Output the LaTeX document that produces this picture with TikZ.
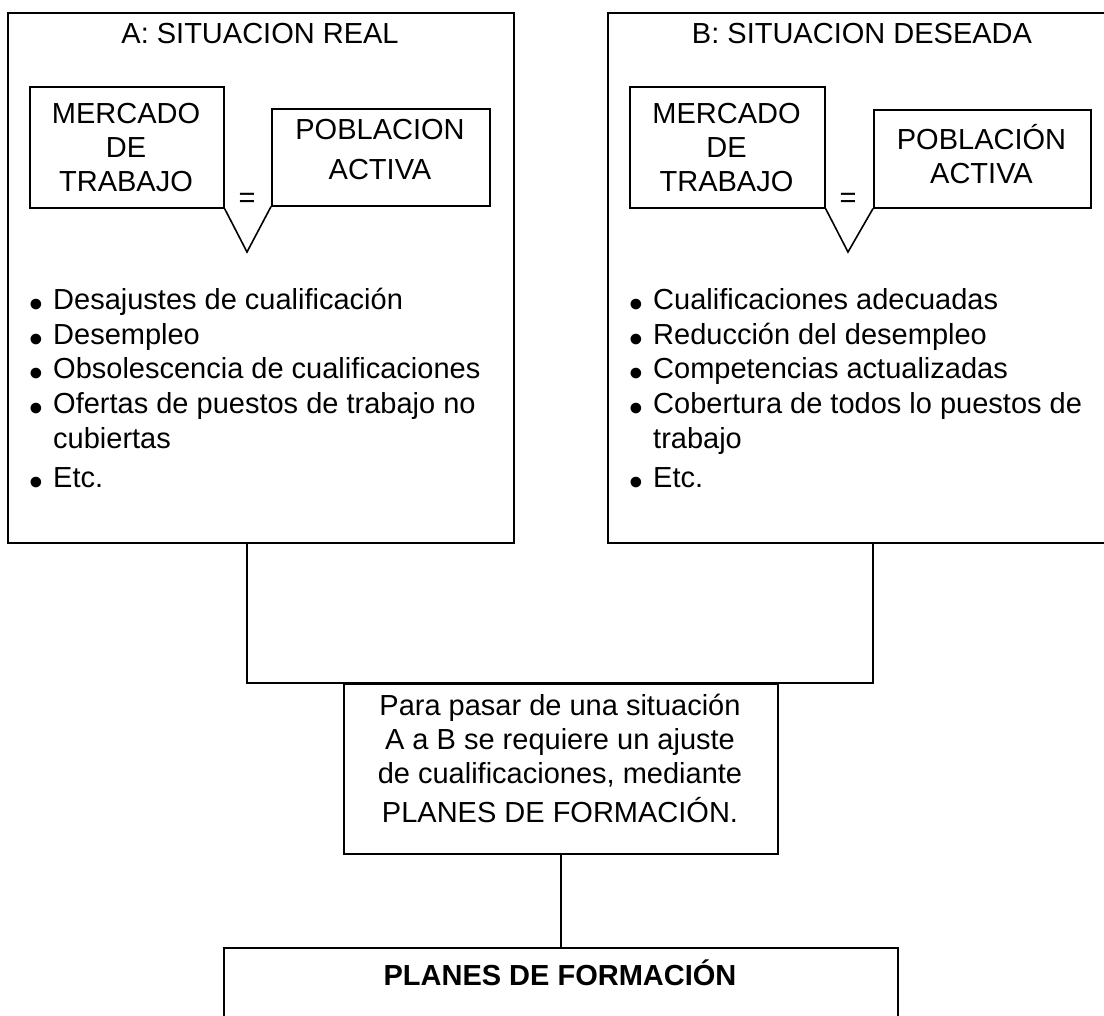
\documentclass[tikz,border=0pt]{standalone}
\usepackage{fontspec}
\setmainfont{Liberation Sans}
\newcommand\bul{\makebox[24pt][l]{\raisebox{-8pt}{\scalebox{1.35}{•}}}}
\begin{document}
\begin{tikzpicture}[x=1pt,y=-1pt,
  box/.style={draw, line width=1.6pt, inner sep=0pt, anchor=north west},
  txt/.style={inner sep=0pt, font=\fontsize{29}{34}\selectfont, align=center, anchor=base},
  lst/.style={inner sep=0pt, font=\fontsize{29}{34.8}\selectfont, align=left, anchor=base west},
  conn/.style={line width=1.6pt}]
\useasboundingbox (0,0) rectangle (1104,1016);
\clip (0,0) rectangle (1104,1016);
% outer boxes
\node[box, minimum width=506, minimum height=530] (A) at (7,12) {};
\node[box, minimum width=510, minimum height=530] (B) at (607,12) {};
% callouts A
\node[box, minimum width=194, minimum height=121] (mA) at (29,86) {};
\node[box, minimum width=218, minimum height=97] (pA) at (271,108) {};
\coordinate (tA) at (247,252);
\draw[conn] (mA.south east) -- (tA) -- (pA.south west);
% callouts B
\node[box, minimum width=195, minimum height=121] (mB) at (629,86) {};
\node[box, minimum width=217, minimum height=98] (pB) at (873,109) {};
\coordinate (tB) at (848,252);
\draw[conn] (mB.south east) -- (tB) -- (pB.south west);
% middle and bottom boxes
\node[box, minimum width=434, minimum height=170] (M) at (343,683) {};
\node[box, minimum width=674, minimum height=120] (P) at (223,947) {};
% texts (base anchor = baseline of the last line)
\node[txt] (tiA) at (260,43.5) {A: SITUACION REAL};
\node[txt] (tiB) at (862,43.5) {B: SITUACION DESEADA};
\node[txt] (mAt) at (126,192) {MERCADO\\DE\\TRABAJO};
\node[txt] (pAt) at (380,180) {POBLACION\\[6pt]ACTIVA};
\node[txt] (eqA) at (247,208) {=};
\node[txt] (mBt) at (726.5,192) {MERCADO\\DE\\TRABAJO};
\node[txt] (pBt) at (981.5,184) {POBLACIÓN\\ACTIVA};
\node[txt] (eqB) at (848,208) {=};
\node[lst] (lA) at (29,487.2) {\bul Desajustes de cualificación\\
\bul Desempleo\\
\bul Obsolescencia de cualificaciones\\
\bul Ofertas de puestos de trabajo no\\
\hspace*{24pt}cubiertas\\[4pt]
\bul Etc.};
\node[lst] (lB) at (629,487.2) {\bul Cualificaciones adecuadas\\
\bul Reducción del desempleo\\
\bul Competencias actualizadas\\
\bul Cobertura de todos lo puestos de\\
\hspace*{24pt}trabajo\\[4pt]
\bul Etc.};
\node[txt] (Mt) at (560,822) {Para pasar de una situación\\A a B se requiere un ajuste\\de cualificaciones, mediante\\[5pt]PLANES DE FORMACIÓN.};
\node[txt, font=\fontsize{29}{34}\selectfont\bfseries] (Pt) at (560,985) {PLANES DE FORMACIÓN};
% connectors
\draw[conn] (A.south -| tA) -- (tA |- M.north) -- (pB.south west |- M.north) -- (B.south -| pB.south west);
\draw[conn] (M.south) -- (P.north);
\end{tikzpicture}
\end{document}
